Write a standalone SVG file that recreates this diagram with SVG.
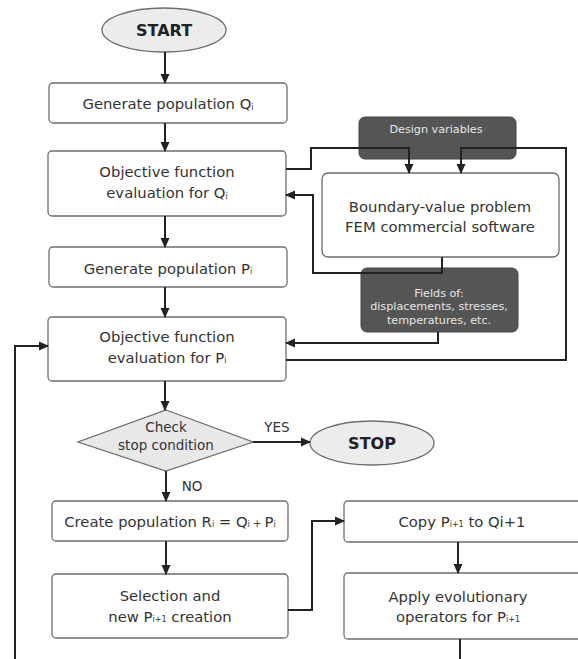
<svg xmlns="http://www.w3.org/2000/svg" width="578" height="659" viewBox="0 0 578 659">
<defs>
<marker id="ah" markerWidth="10" markerHeight="10" refX="9" refY="5" orient="auto" markerUnits="userSpaceOnUse">
<path d="M0,0.5 L10,5 L0,9.5 Z" fill="#222"/>
</marker>
<style>
.box{fill:#fff;stroke:#6e6e6e;stroke-width:1.3}
.term{fill:#ececec;stroke:#6e6e6e;stroke-width:1.3}
.dark{fill:#555;stroke:#444;stroke-width:1}
.t{font-family:"DejaVu Sans",Verdana,sans-serif;font-size:14.8px;fill:#333;text-anchor:middle}
.b{font-weight:bold;font-size:16px;fill:#222}
.s{font-size:13.5px}
.w{font-size:11.2px;fill:#e6e6e6}
.c{fill:none;stroke:#222;stroke-width:2}
.a{marker-end:url(#ah)}
</style>
</defs>
<rect width="578" height="659" fill="#fff"/>

<g id="start"><ellipse class="term" cx="164" cy="30" rx="62" ry="22"/><text class="t b" x="164" y="36">START</text></g>
<g id="genQ"><rect class="box" x="49" y="83" width="238" height="40" rx="4"/><text class="t" x="168" y="109">Generate population Q<tspan font-size="8" dy="1">i</tspan></text></g>
<g id="evalQ"><rect class="box" x="48" y="151" width="238" height="65" rx="4"/><text class="t" x="167" y="177">Objective function</text><text class="t" x="167" y="198">evaluation for Q<tspan font-size="8" dy="1">i</tspan></text></g>
<g id="genP"><rect class="box" x="49" y="247" width="238" height="40" rx="4"/><text class="t" x="168" y="274">Generate population P<tspan font-size="8">i</tspan></text></g>
<g id="evalP"><rect class="box" x="48" y="317" width="238" height="64" rx="4"/><text class="t" x="167" y="342">Objective function</text><text class="t" x="167" y="363">evaluation for P<tspan font-size="8">i</tspan></text></g>
<g id="design"><rect class="dark" x="359" y="117" width="157" height="42" rx="6"/><text class="t w" x="436" y="133">Design variables</text></g>
<g id="fem"><rect class="box" x="322" y="173" width="237" height="84" rx="6"/><text class="t" x="440" y="212">Boundary-value problem</text><text class="t" x="440" y="232">FEM commercial software</text></g>
<g id="fields"><rect class="dark" x="361" y="268" width="157" height="64" rx="6"/><text class="t w" x="439" y="297">Fields of:</text><text class="t w" x="439" y="310">displacements, stresses,</text><text class="t w" x="439" y="324">temperatures, etc.</text></g>
<g id="check"><polygon points="166,410 253,442 166,471 78,442" fill="#e8e8e8" stroke="#6e6e6e" stroke-width="1.3"/><text class="t s" x="166" y="432">Check</text><text class="t s" x="166" y="450">stop condition</text></g>
<g id="stop"><ellipse class="term" cx="372" cy="443" rx="62" ry="22"/><text class="t b" x="372" y="449">STOP</text></g>
<g id="createR"><rect class="box" x="52" y="501" width="236" height="40" rx="4"/><text class="t" x="170" y="527">Create population R<tspan font-size="8">i</tspan> = Q<tspan font-size="8">i</tspan><tspan font-size="10"> + </tspan>P<tspan font-size="8">i</tspan></text></g>
<g id="select"><rect class="box" x="52" y="574" width="236" height="64" rx="4"/><text class="t" x="170" y="601">Selection and</text><text class="t" x="170" y="622">new P<tspan font-size="8">i+1</tspan> creation</text></g>
<g id="copy"><rect class="box" x="344" y="501" width="240" height="41" rx="4"/><text class="t" x="462" y="527">Copy P<tspan font-size="8">i+1</tspan> to Qi+1</text></g>
<g id="apply"><rect class="box" x="344" y="573" width="240" height="66" rx="4"/><text class="t" x="458" y="602">Apply evolutionary</text><text class="t" x="458" y="622">operators for P<tspan font-size="8">i+1</tspan></text></g>

<g id="labels"><text class="t s" x="277" y="432">YES</text><text class="t s" x="192" y="491">NO</text></g>

<g id="connectors">
<path class="c a" d="M165,52 V83"/>
<path class="c a" d="M165,123 V151"/>
<path class="c a" d="M165,216 V247"/>
<path class="c a" d="M165,287 V317"/>
<path class="c a" d="M165,381 V410"/>
<path class="c a" d="M253,442 H310"/>
<path class="c a" d="M166,471 V501"/>
<path class="c a" d="M166,541 V574"/>
<path class="c a" d="M288,610 H312 V521 H344"/>
<path class="c a" d="M458,542 V573"/>
<path class="c" d="M460,639 V659"/>
<path class="c a" d="M15,659 V346 H48"/>
<path class="c a" d="M286,169 H311 V148 H409 V173"/>
<path class="c a" d="M286,360 H566 V148 H461 V173"/>
<path class="c a" d="M442,257 V273 H313 V195 H286"/>
<path class="c a" d="M438,332 V343 H286"/>
</g>
</svg>
